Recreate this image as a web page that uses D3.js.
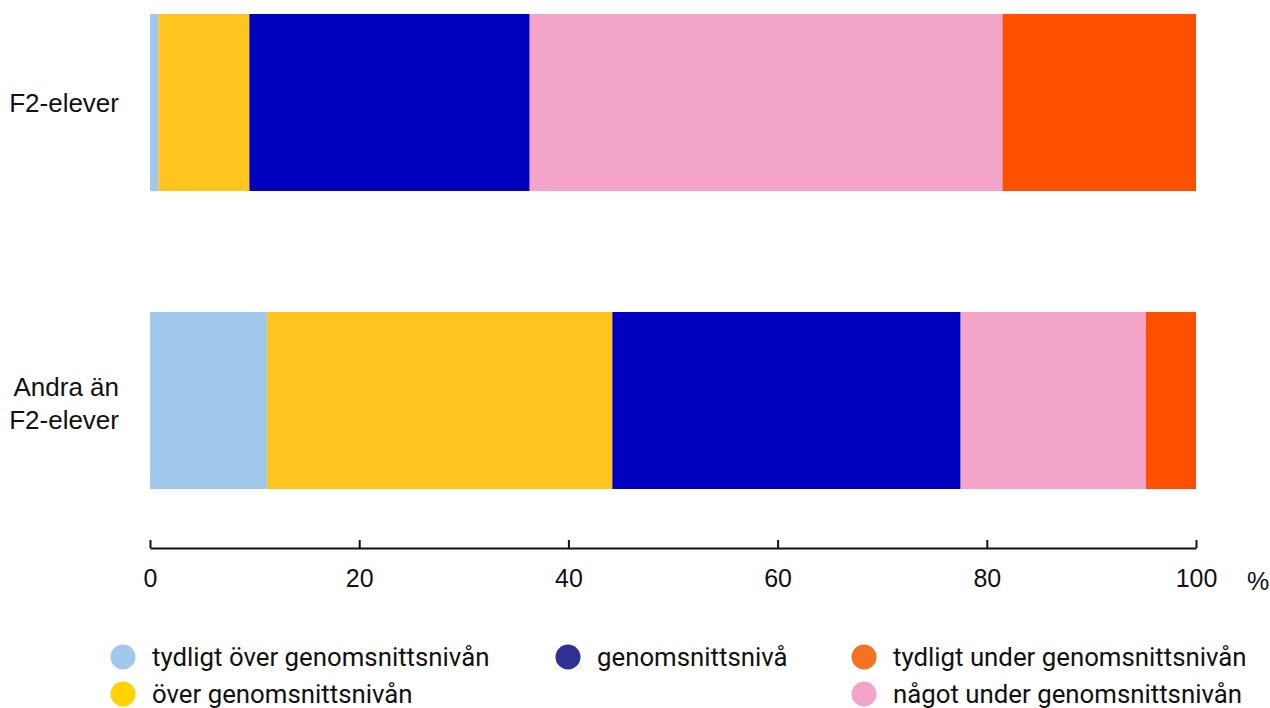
<!DOCTYPE html>
<html><head><meta charset="utf-8">
<script src="https://cdn.jsdelivr.net/npm/d3@7"></script>
<style>body{margin:0;background:#fff;}svg{display:block;}</style>
</head><body>
<svg id="chart" width="1270" height="708"></svg>
<script>
const categories = ["F2-elever", "Andra än F2-elever"];
const seriesNames = ["tydligt över genomsnittsnivån", "över genomsnittsnivån", "genomsnittsnivå", "något under genomsnittsnivån", "tydligt under genomsnittsnivån"];
const tydligtOver = [0.8, 11.2];
const over = [8.7, 33.0];
const genomsnitt = [26.8, 33.3];
const nagotUnder = [45.2, 17.7];
const tydligtUnder = [18.5, 4.8];
const tickValues = [0, 20, 40, 60, 80, 100];
const barColors = ["#a0c8ea", "#ffc41e", "#0000be", "#f4a4c8", "#ff5000"];
const legendColors = ["#a0c8ea", "#ffd200", "#2e3192", "#f4a4c8", "#f47321"];

const seriesValues = [tydligtOver, over, genomsnitt, nagotUnder, tydligtUnder];
const data = categories.map((c, i) => {
  const o = {cat: c};
  seriesNames.forEach((s, j) => o[s] = seriesValues[j][i]);
  return o;
});
const stacked = d3.stack().keys(seriesNames)(data);

const svg = d3.select("#chart");
const x = d3.scaleLinear().domain([0, 100]).range([150, 1196]);
const bandY = d3.scaleOrdinal().domain(categories).range([14, 312]);
const bh = 177;

svg.append("g").selectAll("g").data(stacked).join("g")
  .attr("fill", (d, i) => barColors[i])
  .selectAll("rect").data(d => d).join("rect")
  .attr("x", d => x(d[0]))
  .attr("width", d => x(d[1]) - x(d[0]))
  .attr("y", d => bandY(d.data.cat))
  .attr("height", bh);

// category labels
const font = "'Liberation Sans', Arial, sans-serif";
categories.forEach(c => {
  const words = c === "Andra än F2-elever" ? ["Andra än", "F2-elever"] : [c];
  const cy = bandY(c) + bh / 2;
  const t = svg.append("text").attr("text-anchor", "end").attr("x", 119)
    .attr("font-family", font).attr("font-size", 26).attr("fill", "#111");
  words.forEach((w, i) => {
    t.append("tspan").attr("x", 119)
      .attr("y", cy + 9 + (words.length > 1 ? 3 : 0) + (i - (words.length - 1) / 2) * 33).text(w);
  });
});

// axis
const axis = d3.axisBottom(x).tickValues(tickValues).tickSize(0).tickPadding(24);
const ag = svg.append("g").attr("transform", "translate(0,548)").call(axis);
ag.select(".domain").attr("stroke", "#111").attr("stroke-width", 2);
ag.selectAll(".tick text").attr("font-family", font).attr("font-size", 25).attr("fill", "#111").attr("dy", "0.6em");
ag.selectAll(".tick").append("line").attr("y1", 0).attr("y2", -8).attr("stroke", "#111").attr("stroke-width", 2);
svg.append("text").attr("x", 1258).attr("y", 590).attr("text-anchor", "middle")
  .attr("font-family", font).attr("font-size", 25).attr("fill", "#111").text("%");

// legend
const legendPos = [[123, 657], [123, 694], [568, 657], [864, 694], [864, 657]];
const lg = svg.append("g");
seriesNames.forEach((s, i) => {
  const [lx, ly] = legendPos[i];
  lg.append("circle").attr("cx", lx).attr("cy", ly).attr("r", 12.5).attr("fill", legendColors[i]);
  lg.append("text").attr("x", lx + 29).attr("y", ly + 9)
    .attr("font-family", "Roboto, sans-serif").attr("font-size", 25.8).attr("fill", "#111")
    .text(s);
});
</script>
</body></html>
